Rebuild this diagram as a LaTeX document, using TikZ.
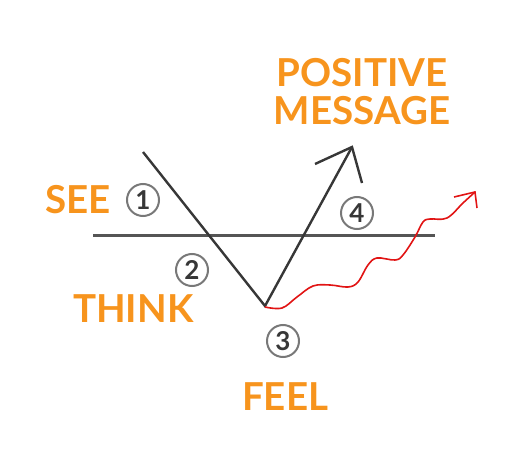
\documentclass[tikz,border=0pt]{standalone}
\usepackage{fontspec}
\setmainfont{Lato}
\usepackage{xcolor}
\usetikzlibrary{calc}
\definecolor{signorange}{RGB}{247, 148, 29}
\definecolor{inkgray}{RGB}{55, 55, 55}
\definecolor{ringgray}{RGB}{120, 120, 120}
\definecolor{wavered}{RGB}{225, 20, 20}

\begin{document}
\begin{tikzpicture}[
    x=1pt, y=-1pt,
    lbl/.style={font=\fontsize{38.5}{38}\selectfont\bfseries, text=signorange,
                inner sep=0pt, align=center},
    stepnum/.style={circle, draw=ringgray, line width=2pt, minimum size=32pt,
                    inner sep=0pt, font=\fontsize{26}{26}\selectfont\bfseries, text=inkgray},
    vline/.style={inkgray, line width=2.4pt},
    baseline line/.style={inkgray!85, line width=3pt},
    waveline/.style={wavered, line width=1.6pt},
]

\useasboundingbox (0,0) rectangle (506,476);

% ==================== 基线与 V 形 ====================
\coordinate (hl) at (93, 235);
\coordinate (hr) at (435, 235);
\draw[baseline line] (hl) -- (hr);

\coordinate (vtop) at (143, 152);
\coordinate (vbot) at (265, 306);
\coordinate (tip)  at (352, 147);
\coordinate (barbl) at (315, 164);
\coordinate (barbr) at (362, 183);

\draw[vline] (vtop) -- (vbot) -- (tip);
\draw[vline] (barbl) -- (tip) -- (barbr);

% ==================== 红色波浪线 ====================
\coordinate (wend)  at (475, 192);
\coordinate (wbarbl) at (454, 197);
\coordinate (wbarbr) at (477, 208);

\draw[waveline] plot[smooth, tension=0.6] coordinates {
    (265,307) (282,308) (297,297) (313,286) (330,285) (348,287)
    (358,282) (368,265) (377,258) (395,260) (403,255) (415,237)
    (423,222) (430,219) (447,218) (463,203) (475,192)};
\draw[waveline] (wbarbl) -- (wend) -- (wbarbr);

% ==================== 步骤编号 ====================
\node[stepnum] (n1) at (143, 200) {1};
\node[stepnum] (n2) at (192, 270) {2};
\node[stepnum] (n3) at (283, 341) {3};
\node[stepnum] (n4) at (357, 213) {4};

% ==================== 文字标签 ====================
\node[lbl, anchor=base west] (see)   at (45, 213)  {SEE};
\node[lbl, anchor=base west] (think) at (73, 322)  {THINK};
\node[lbl, anchor=base west] (feel)  at (242, 410) {FEEL};
\node[lbl, anchor=base] (posmsg) at (362, 125) {POSITIVE\\MESSAGE};

\end{tikzpicture}
\end{document}
